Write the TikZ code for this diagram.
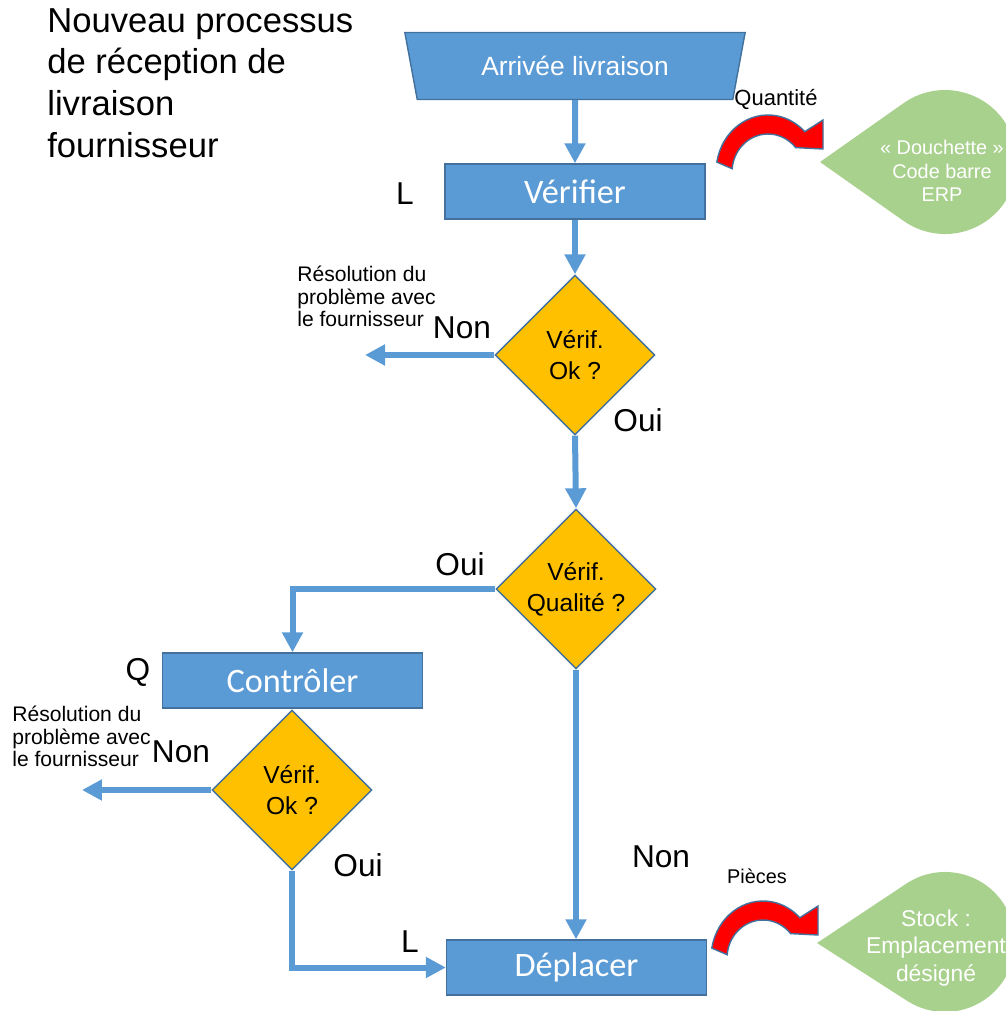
\documentclass[tikz,border=0pt]{standalone}
\usepackage{fontspec}
\setmainfont{Liberation Sans}
\newfontfamily\carlito{Carlito}
\usetikzlibrary{arrows.meta,shapes.geometric,positioning}

\definecolor{bleu}{HTML}{5B9BD5}
\definecolor{bord}{HTML}{41719C}
\definecolor{jaune}{HTML}{FFC000}
\definecolor{vert}{HTML}{A9D18E}

\tikzset{
  etape/.style={draw=bord, line width=0.8pt, fill=bleu, text=white,
    minimum width=5.2cm, minimum height=1.1cm, inner sep=0pt,
    font=\carlito\fontsize{19.5}{23}\selectfont},
  test/.style={diamond, aspect=1, draw=bord, line width=0.8pt, fill=jaune,
    minimum size=3.2cm, inner sep=0pt, align=center,
    font=\fontsize{14}{17.4}\selectfont},
  fleche/.style={draw=bleu, line width=0.12cm,
    -{Triangle[width=0.4cm,length=0.4cm]}},
  reponse/.style={inner sep=0pt, font=\fontsize{18}{21}\selectfont},
  note/.style={align=left, inner sep=0pt, font=\fontsize{12}{12.8}\selectfont},
  flecherouge/.style={fill=red, draw=bord, line width=0.8pt},
  courbe/.pic={
    \filldraw[flecherouge] (-51.2,-9.9)
      arc[start angle=190, end angle=315, x radius=52, y radius=57]
      -- (55,-52) -- (55,-23) -- (27.6,-24.4)
      arc[start angle=320, end angle=185, x radius=36, y radius=38] -- cycle;
  }
}

\begin{document}
\begin{tikzpicture}[x=0.02cm,y=-0.02cm]
\clip (0,0) rectangle (1006,1011);

% titre
\node[anchor=north west, align=left, inner sep=0pt,
  font=\fontsize{19.7}{23.8}\selectfont] (titre) at (47,8)
  {Nouveau processus\\de réception de\\livraison\\fournisseur};

% les etapes
\node[trapezium, trapezium stretches=true, shape border rotate=180,
  trapezium left angle=76, trapezium right angle=76,
  minimum width=6.82cm, minimum height=1.34cm,
  draw=bord, line width=0.8pt, fill=bleu, text=white,
  font=\fontsize{15}{18}\selectfont] (arrivee) at (575,66) {Arrivée livraison};
\node[etape] (verifier) at (575,191.5) {Vérifier};
\node[test] (ok1) at (575,355) {Vérif.\\Ok ?};
\node[test] (qualite) at (576,589) {Vérif.\\Qualité ?};
\node[etape] (controler) at (292.5,680.5) {Contrôler};
\node[test] (ok2) at (292,790) {Vérif.\\Ok ?};
\node[etape] (deplacer) at (576.5,967.5) {Déplacer};

\coordinate (fin1) at (365,355);
\coordinate (fin2) at (82,790);

% liaisons
\draw[fleche] (arrivee) -- (verifier);
\draw[fleche] (verifier) -- (ok1);
\draw[fleche] (ok1.west) -- (fin1);
\draw[fleche] (ok1.south) -- (qualite.north);
\draw[fleche] (qualite.west) -| (controler.north);
\draw[fleche] (ok2.west) -- (fin2);
\draw[fleche] (ok2.south) |- (deplacer.west);
\draw[fleche] (qualite.south) -- (qualite.south |- deplacer.north);

% reponses
\foreach \n/\x/\y/\t in {l1/405/204/L, non1/462/338/Non, oui1/638/431/Oui,
    oui2/460/575/Oui, q/138/680/Q, non2/181/762/Non, oui3/358/876/Oui,
    l2/410/952/L, non3/661/867/Non}
  \node[reponse, anchor=base] (\n) at (\x,\y) {\t};

\node[note, anchor=north west] (resol1) at (297,266)
  {Résolution du\\problème avec\\le fournisseur};
\node[note, anchor=north west] (resol2) at (12,706)
  {Résolution du\\problème avec\\le fournisseur};

% sorties vers le systeme
\fill[vert] (820,162) -- (903.5,103.2) arc[start angle=234.8, end angle=485.2, radius=72] -- cycle;
\fill[vert] (817,943) -- (906.7,883.4) arc[start angle=236.8, end angle=483.2, radius=70] -- cycle;
\node[align=center, text=white, inner sep=0pt,
  font=\fontsize{11.3}{13.3}\selectfont] (douchette) at (942,171)
  {« Douchette »\\Code barre\\ERP};
\node[align=center, text=white, inner sep=0pt,
  font=\fontsize{13}{15.6}\selectfont] (stock) at (936,948)
  {Stock :\\Emplacement\\désigné};

\pic at (768,172) {courbe};
\pic at (763,958) {courbe};
\node[anchor=base, inner sep=0pt, font=\fontsize{12.5}{15}\selectfont] (quantite) at (776,105) {Quantité};
\node[anchor=base, inner sep=0pt, font=\fontsize{11.3}{14}\selectfont] (pieces) at (757,883) {Pièces};

\end{tikzpicture}
\end{document}
